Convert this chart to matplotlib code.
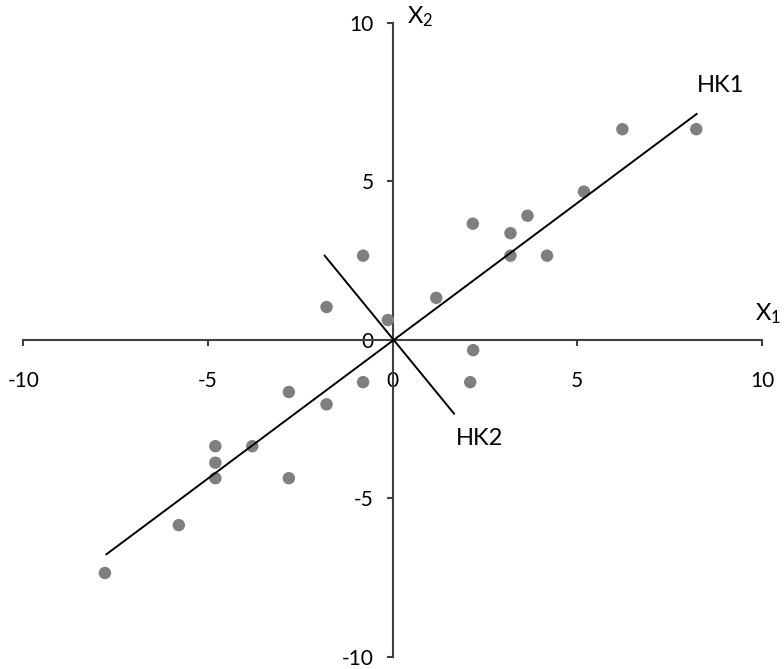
"""Scatter of centred data with principal axes HK1 / HK2."""
import matplotlib
matplotlib.use("Agg")
import matplotlib.pyplot as plt

plt.rcParams["font.family"] = ["Lato", "DejaVu Sans"]
plt.rcParams["mathtext.default"] = "regular"

# data points (centred X1, X2)
x1 = [-7.79, -5.79, -4.80, -4.80, -4.80, -3.80, -2.81, -2.81, -1.79, -1.79,
      -0.80, -0.80, -0.13, 1.18, 2.10, 2.18, 2.17, 3.19, 3.19, 3.65,
      4.18, 5.18, 6.22, 8.22]
x2 = [-7.35, -5.84, -3.35, -3.87, -4.36, -3.35, -4.36, -1.64, -2.03, 1.04,
      -1.33, 2.66, 0.63, 1.33, -1.33, -0.32, 3.67, 3.37, 2.66, 3.92,
      2.66, 4.68, 6.65, 6.65]

# principal component segments (end points)
hk1_x = [-7.75, 8.23]
hk1_y = [-6.76, 7.13]
hk2_x = [-1.84, 1.66]
hk2_y = [2.66, -2.32]

ticks = [-10, -5, 0, 5, 10]
axis_col = "#404040"

fig = plt.figure(figsize=(7.84, 6.69), dpi=100)
ax = fig.add_axes([23.3 / 784, 1 - 657 / 669, (762 - 23.3) / 784, (657 - 23) / 669])

ax.scatter(x1, x2, s=80, color="#7f7f7f", edgecolors="none", zorder=3)
ax.plot(hk1_x, hk1_y, color="black", lw=1.4, zorder=4)
ax.plot(hk2_x, hk2_y, color="black", lw=1.4, zorder=4)

ax.set_xlim(-10, 10)
ax.set_ylim(-10, 10)
for s in ["top", "right"]:
    ax.spines[s].set_visible(False)
ax.spines["left"].set_position("zero")
ax.spines["bottom"].set_position("zero")
for s in ["left", "bottom"]:
    ax.spines[s].set_color(axis_col)
    ax.spines[s].set_linewidth(1.5)

ax.set_xticks(ticks)
ax.set_yticks(ticks)
ax.set_xticklabels([str(t) for t in ticks])
ax.set_yticklabels([str(t) for t in ticks])
ax.tick_params(axis="x", direction="out", length=4.5, width=1.5, color=axis_col,
               labelsize=15, pad=18)
ax.tick_params(axis="y", direction="out", length=4.5, width=1.5, color=axis_col,
               labelsize=15, pad=9)
ax.patch.set_visible(False)

ax.text(8.25, 7.7, "HK1", fontsize=17, ha="left", va="bottom")
ax.text(1.7, -3.1, "HK2", fontsize=17, ha="left", va="center")
ax.text(9.8, 0.45, "X$_1$", fontsize=17, ha="left", va="bottom", clip_on=False)
ax.text(0.4, 10.2, "X$_2$", fontsize=17, ha="left", va="center", clip_on=False)

fig.savefig("out.png", dpi=100)
